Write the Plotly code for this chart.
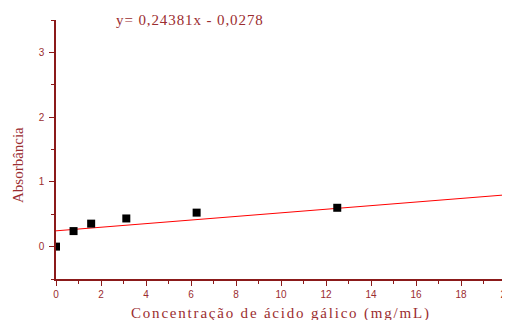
import plotly.graph_objects as go

# Data
conc = [0.0, 0.78, 1.5625, 3.125, 6.25, 12.5]
absorb = [0.0, 0.24, 0.355, 0.435, 0.525, 0.60]
fit_intercept = 0.24381
fit_slope = 0.0278
fit_x = [0, 20]
fit_y = [fit_intercept + fit_slope * x for x in fit_x]
eq_text = "y= 0,24381x - 0,0278"
x_title = "Concentração de ácido gálico (mg/mL)"
y_title = "Absorbância"

axis_color = "#8b1a1a"
label_color = "#9b2d30"
serif = "Liberation Serif, Times New Roman"


def spaced(text, px):
    return f'<span style="letter-spacing:{px}px">{text}</span>'


fig = go.Figure()
fig.add_trace(go.Scatter(x=fit_x, y=fit_y, mode="lines",
                         line=dict(color="#ff0000", width=1), showlegend=False))
fig.add_trace(go.Scatter(x=conc, y=absorb, mode="markers",
                         marker=dict(symbol="square", size=8, color="black"),
                         showlegend=False))

fig.update_layout(
    width=502, height=312,
    margin=dict(l=48, r=4, t=12, b=41, autoexpand=False),
    paper_bgcolor="white", plot_bgcolor="white",
    font=dict(family="Liberation Sans, Arial", size=10, color=label_color),
    annotations=[
        dict(text=spaced(eq_text, 0.9), xref="paper", yref="paper", x=0.128, y=1.0,
             xanchor="left", yanchor="bottom", yshift=-10, showarrow=False,
             font=dict(family=serif, size=15, color=label_color)),
        dict(text=spaced(x_title, 1.8), xref="paper", yref="paper", x=0.5, y=0,
             xanchor="center", yanchor="top", yshift=-24, showarrow=False,
             font=dict(family=serif, size=15, color=label_color)),
        dict(text=y_title, xref="paper", yref="paper", x=0, y=0.44,
             xanchor="center", yanchor="middle", xshift=-38, textangle=-90,
             showarrow=False,
             font=dict(family=serif, size=15, color=label_color)),
    ],
)
fig.update_xaxes(range=[0, 20], tickvals=list(range(0, 21, 2)), automargin=False,
                 ticklabeloverflow="allow",
                 showgrid=False, zeroline=False, showline=True, linecolor=axis_color,
                 linewidth=1.5, ticks="outside", ticklen=5, tickcolor=axis_color,
                 minor=dict(dtick=1, ticks="outside", ticklen=3, tickcolor=axis_color))
fig.update_yaxes(range=[-0.5, 3.5], tickvals=[0, 1, 2, 3], automargin=False,
                 ticklabelstandoff=3,
                 showgrid=False, zeroline=False, showline=True, linecolor=axis_color,
                 linewidth=1.5, ticks="outside", ticklen=5, tickcolor=axis_color,
                 minor=dict(dtick=0.5, ticks="outside", ticklen=3, tickcolor=axis_color))

fig.write_html("out.html")
